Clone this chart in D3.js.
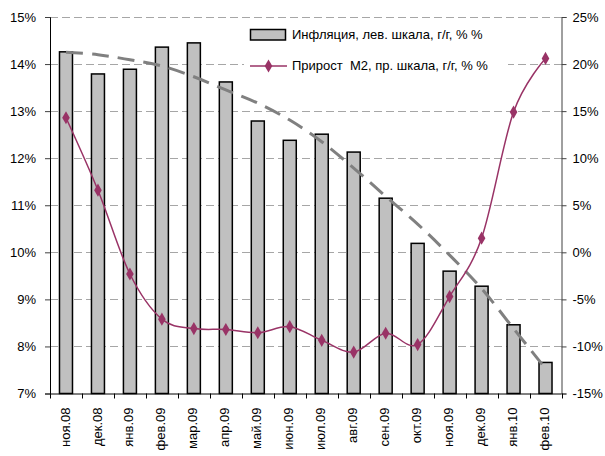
<!DOCTYPE html>
<html><head><meta charset="utf-8">
<script src="https://cdn.jsdelivr.net/npm/d3@7"></script>
<style>
body{margin:0;background:#fff;}
svg{display:block;font-family:"Liberation Sans",Arial,sans-serif;}
</style></head>
<body><svg id="c" width="605" height="456"></svg>
<script>
const months = ["ноя.08","дек.08","янв.09","фев.09","мар.09","апр.09","май.09","июн.09","июл.09","авг.09","сен.09","окт.09","ноя.09","дек.09","янв.10","фев.10"];
const inflation = [14.26,13.79,13.89,14.36,14.45,13.62,12.79,12.38,12.51,12.13,11.15,10.19,9.60,9.28,8.46,7.66];
const trend = [14.25,14.20,14.09,13.96,13.73,13.45,13.17,12.81,12.35,11.79,11.19,10.60,9.94,9.23,8.38,7.53];
const m2 = [14.3,6.6,-2.3,-7.1,-8.1,-8.2,-8.55,-7.9,-9.35,-10.6,-8.6,-9.8,-4.7,1.5,14.9,20.6];
const leftTicks = [7,8,9,10,11,12,13,14,15];
const rightTicks = [-15,-10,-5,0,5,10,15,20,25];
const legendLabels = ["Инфляция, лев. шкала, г/г, % %","Прирост  М2, пр. шкала, г/г, % %"];

const svg = d3.select("#c");
const L=50, R=561.5, T=17, B=393.5;
const xb = d3.scaleBand().domain(months).range([L,R]);
const yL = d3.scaleLinear().domain([7,15]).range([B,T]);
const yR = d3.scaleLinear().domain([-15,25]).range([B,T]);
const font = 13, txt="#000";

// gridlines
svg.append("g").selectAll("line").data(leftTicks.filter(d=>d>7)).join("line")
  .attr("x1",L).attr("x2",R).attr("y1",d=>Math.round(yL(d))+0.5).attr("y2",d=>Math.round(yL(d))+0.5)
  .attr("stroke","#a6a6a6").attr("stroke-width",1).attr("stroke-dasharray","8,4");

// bars
svg.append("g").selectAll("rect").data(inflation).join("rect")
  .attr("x",(d,i)=>xb(months[i])+xb.bandwidth()/2-6.5)
  .attr("width",13)
  .attr("y",d=>yL(d)).attr("height",d=>B-yL(d))
  .attr("fill","#c0c0c0").attr("stroke","#000").attr("stroke-width",1.5);

// trend line
const cx = i=>xb(months[i])+xb.bandwidth()/2;
svg.append("path").datum(trend)
  .attr("d",d3.line().x((d,i)=>cx(i)).y(d=>yL(d)).curve(d3.curveCardinal.tension(0)))
  .attr("fill","none").attr("stroke","#808080").attr("stroke-width",3).attr("stroke-dasharray","17,9");

// M2 line
svg.append("path").datum(m2)
  .attr("d",d3.line().x((d,i)=>cx(i)).y(d=>yR(d)).curve(d3.curveCardinal.tension(0)))
  .attr("fill","none").attr("stroke","#993366").attr("stroke-width",1.5);
const diamond = d3.symbol().type(d3.symbolDiamond).size(50);
svg.append("g").selectAll("path").data(m2).join("path")
  .attr("d",diamond).attr("transform",(d,i)=>`translate(${cx(i)},${yR(d)})`)
  .attr("fill","#993366");

// axes
const axL = svg.append("g").attr("transform",`translate(${L},0)`)
  .call(d3.axisLeft(yL).tickValues(leftTicks).tickFormat(d=>d+"%").tickSize(5).tickPadding(9));
const axR = svg.append("g").attr("transform",`translate(${R},0)`)
  .call(d3.axisRight(yR).tickValues(rightTicks).tickFormat(d=>d+"%").tickSize(5).tickPadding(6));
const axB = svg.append("g").attr("transform",`translate(0,${B})`)
  .call(d3.axisBottom(xb).tickSize(0).tickFormat(d=>d));
// boundary ticks
svg.append("g").selectAll("line").data(d3.range(months.length+1)).join("line")
  .attr("x1",i=>Math.round(L+i*xb.step())+0.5).attr("x2",i=>Math.round(L+i*xb.step())+0.5)
  .attr("y1",B).attr("y2",B+5).attr("stroke","#000");
[axL,axR,axB].forEach(a=>{
  a.select(".domain").attr("stroke","#404040");
  a.selectAll(".tick line").attr("stroke","#404040");
  a.selectAll("text").attr("font-size",font).attr("fill",txt).attr("font-family","Liberation Sans, Arial, sans-serif");
});
axB.select(".domain").attr("d",`M${L},0.5H${R}`).attr("stroke","#000");
axL.select(".domain").attr("stroke","#000");
axB.selectAll(".tick text").attr("transform","rotate(-90)").attr("text-anchor","end")
  .attr("x",-14).attr("y",-1).attr("dy","0.35em");

// legend
const lg = svg.append("g");
lg.append("rect").attr("x",244).attr("y",21).attr("width",264).attr("height",55).attr("fill","#fff");
lg.append("rect").attr("x",250.5).attr("y",29.5).attr("width",35).attr("height",10.5)
  .attr("fill","#c0c0c0").attr("stroke","#000").attr("stroke-width",1.5);
lg.append("line").attr("x1",250).attr("x2",287).attr("y1",66).attr("y2",66).attr("stroke","#993366").attr("stroke-width",1.5);
lg.append("path").attr("d",diamond).attr("transform","translate(268.5,66)").attr("fill","#993366");
lg.selectAll("text").data(legendLabels).join("text")
  .attr("x",292).attr("y",(d,i)=>i?70:39).attr("font-size",font).attr("fill",txt)
  .style("white-space","pre").text(d=>d);
</script></body></html>
